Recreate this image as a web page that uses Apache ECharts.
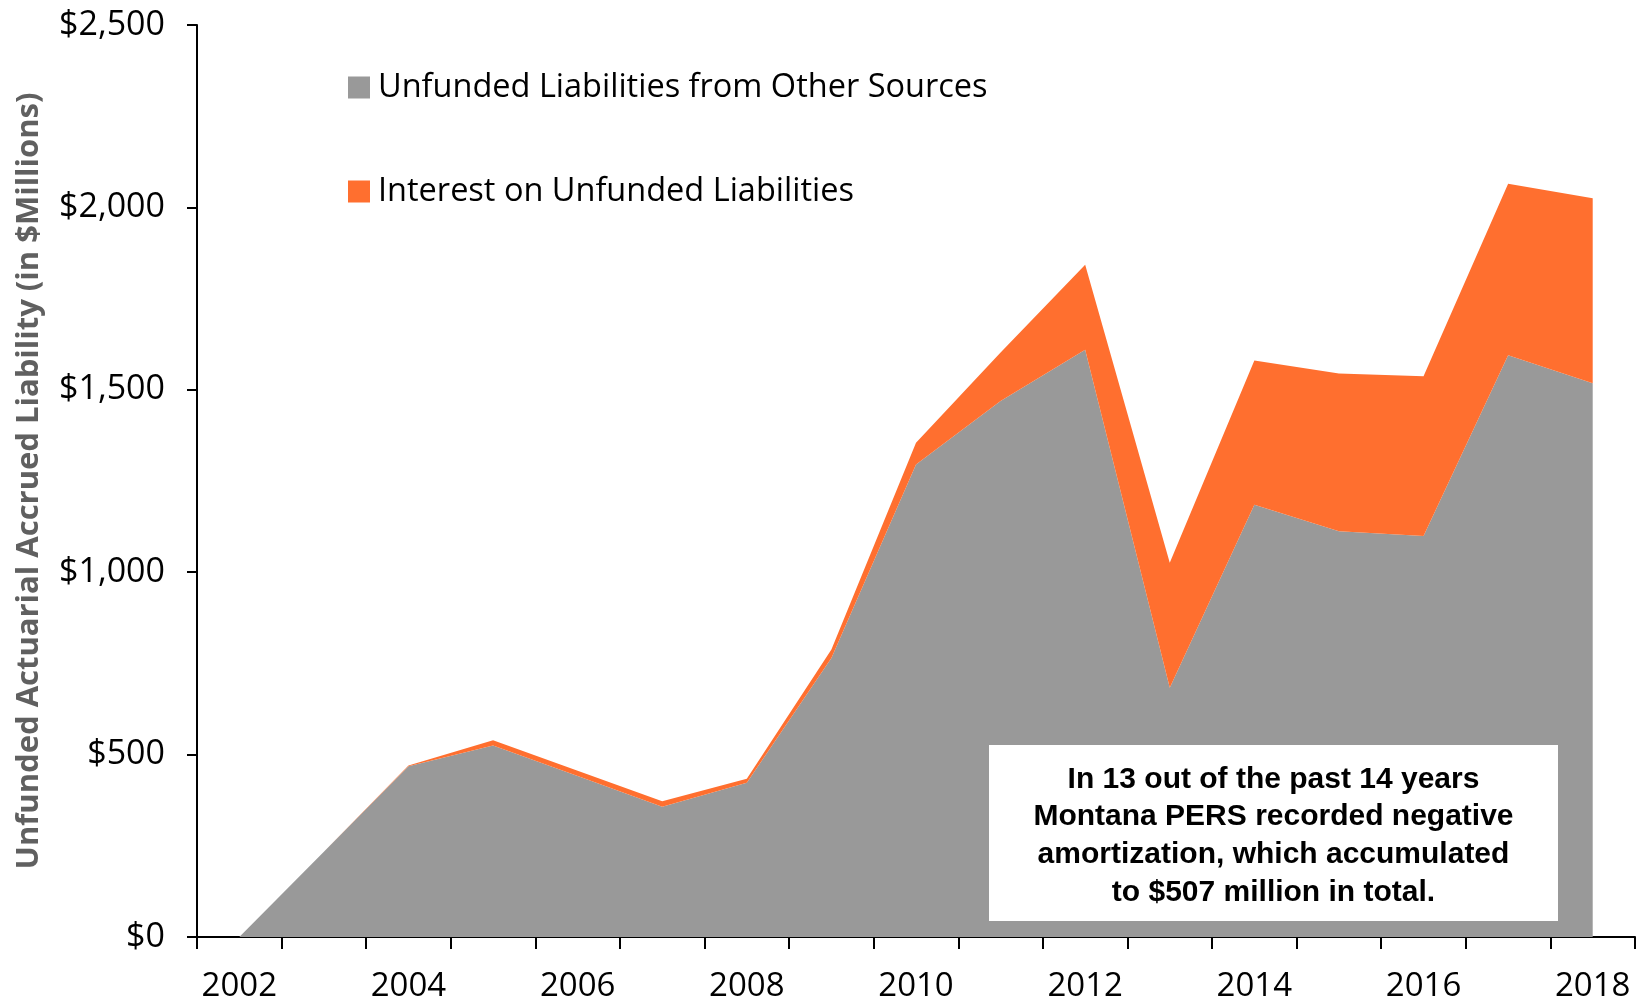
<!DOCTYPE html>
<html>
<head>
<meta charset="utf-8">
<script src="https://cdn.jsdelivr.net/npm/echarts@6/dist/echarts.min.js"></script>
<style>
  html, body { margin: 0; padding: 0; background: #fff; }
  #chart { width: 1646px; height: 1003px; }
</style>
</head>
<body>
<div id="chart"></div>
<script>
// Montana PERS unfunded actuarial accrued liability, $ millions
const years = ['2002','2003','2004','2005','2006','2007','2008','2009','2010',
               '2011','2012','2013','2014','2015','2016','2017','2018'];
const otherSources = [0, 234, 468, 525, 441, 357, 423, 765, 1295,
                      1469, 1610, 683, 1185, 1112, 1099, 1595, 1518];
const interestOnUnfunded = [0, 0, 2, 14, 15, 15, 11, 23, 60,
                            133, 233, 343, 395, 433, 438, 470, 507];
const seriesNames = ['Unfunded Liabilities from Other Sources', 'Interest on Unfunded Liabilities'];
const yTicks = { min: 0, max: 2500, interval: 500 };
const noteLines = [
  'In 13 out of the past 14 years',
  'Montana PERS recorded negative',
  'amortization, which accumulated',
  'to $507 million in total.'
];

const GRAY = '#999999';
const ORANGE = '#FF6F2F';
const SANS = '"Open Sans", "Noto Sans", sans-serif';

const chart = echarts.init(document.getElementById('chart'));

chart.setOption({
  animation: false,
  backgroundColor: '#ffffff',
  grid: { left: 197, right: 11, top: 25, bottom: 66, containLabel: false },
  legend: {
    orient: 'vertical',
    left: 343,
    top: 66,
    itemWidth: 22,
    itemHeight: 22,
    itemGap: 71,
    icon: 'rect',
    selectedMode: false,
    data: seriesNames,
    textStyle: {
      fontFamily: SANS,
      fontSize: 32.5,
      color: '#000',
      lineHeight: 30,
      padding: [0, 0, 0, 3]
    }
  },
  xAxis: {
    type: 'category',
    data: years,
    boundaryGap: true,
    axisLine: { lineStyle: { color: '#000', width: 2 } },
    axisTick: { show: true, interval: 0, length: 12, lineStyle: { color: '#000', width: 2 } },
    axisLabel: {
      interval: 1,
      margin: 33,
      fontFamily: SANS,
      fontSize: 33,
      color: '#000'
    },
    splitLine: { show: false }
  },
  yAxis: {
    type: 'value',
    min: yTicks.min,
    max: yTicks.max,
    interval: yTicks.interval,
    name: 'Unfunded Actuarial Accrued Liability (in $Millions)',
    nameLocation: 'middle',
    nameGap: 152,
    nameTextStyle: {
      fontFamily: SANS,
      fontSize: 31,
      fontWeight: 'bold',
      color: '#606060'
    },
    axisLine: { show: true, lineStyle: { color: '#000', width: 2 } },
    axisTick: { show: true, length: 10, lineStyle: { color: '#000', width: 2 } },
    axisLabel: {
      margin: 32,
      fontFamily: SANS,
      fontSize: 34,
      color: '#000',
      formatter: v => '$' + v.toLocaleString('en-US')
    },
    splitLine: { show: false }
  },
  series: [
    {
      name: seriesNames[0],
      type: 'line',
      stack: 'uaal',
      data: otherSources,
      symbol: 'none',
      lineStyle: { width: 0 },
      itemStyle: { color: GRAY },
      areaStyle: { color: GRAY, opacity: 1 }
    },
    {
      name: seriesNames[1],
      type: 'line',
      stack: 'uaal',
      data: interestOnUnfunded,
      symbol: 'none',
      lineStyle: { width: 0 },
      itemStyle: { color: ORANGE },
      areaStyle: { color: ORANGE, opacity: 1 }
    }
  ],
  graphic: [
    {
      type: 'group',
      left: 989,
      top: 745,
      z: 100,
      children: [
        {
          type: 'rect',
          z: 100,
          shape: { x: 0, y: 0, width: 569, height: 176 },
          style: { fill: '#ffffff' }
        },
        {
          type: 'text',
          z: 101,
          x: 284.5,
          y: 91,
          style: {
            text: noteLines.join('\n'),
            fontFamily: '"Liberation Sans", Arial, sans-serif',
            fontWeight: 'bold',
            fontSize: 30,
            lineHeight: 37.7,
            fill: '#000',
            align: 'center',
            verticalAlign: 'middle'
          }
        }
      ]
    }
  ]
});
</script>
</body>
</html>
